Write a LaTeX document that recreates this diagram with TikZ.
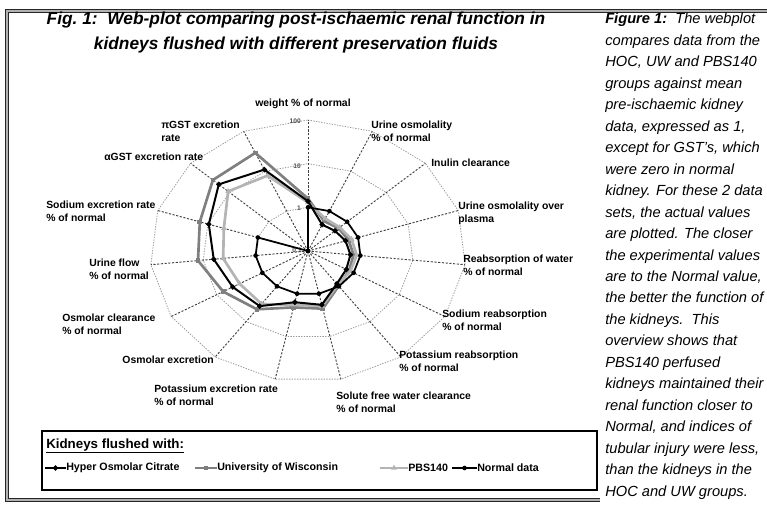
\documentclass[tikz,border=0pt]{standalone}
\usepackage{fontspec}
\setmainfont{Liberation Sans}
\usetikzlibrary{shapes.geometric}

\definecolor{uwgray}{HTML}{7F7F7F}
\definecolor{pbsgray}{HTML}{B4B4B4}

\tikzset{
  framebar/.style={black!85, line width=1.1pt, double=black!30, double distance=0.9pt},
  titletext/.style={font=\fontsize{13}{19}\selectfont\bfseries\itshape, align=center, inner sep=0pt},
  captext/.style={font=\fontsize{11}{16.1}\selectfont\itshape, align=left, inner sep=0pt},
  spoke/.style={black!75, line width=0.7pt, dash pattern=on 1.6pt off 1.2pt},
  gridring/.style={black!40, line width=0.6pt, dash pattern=on 1pt off 1pt},
  axlabel/.style={font=\fontsize{7.8}{9.8}\selectfont\bfseries, inner sep=0pt, align=left},
  ticklabel/.style={font=\fontsize{5}{6}\selectfont\bfseries, text=black!70, inner sep=0pt, anchor=east},
  hocline/.style={black, line width=1.5pt, line join=round},
  uwline/.style={uwgray, line width=2pt, line join=round},
  pbsline/.style={pbsgray, line width=2pt, line join=round},
  normline/.style={black, line width=1.3pt, line join=round},
  hocmark/.style={diamond, fill=black, inner sep=0pt, minimum size=4.5pt},
  uwmark/.style={rectangle, fill=uwgray, inner sep=0pt, minimum size=3.5pt},
  pbsmark/.style={regular polygon, regular polygon sides=3, fill=pbsgray, inner sep=0pt, minimum size=5pt},
  normmark/.style={circle, fill=black, inner sep=0pt, minimum size=3.5pt},
  legendbox/.style={black, line width=0.8pt},
  legtitle/.style={font=\fontsize{10}{12}\selectfont\bfseries, inner sep=0pt, anchor=west},
  legtext/.style={font=\fontsize{8}{10}\selectfont\bfseries, inner sep=0pt, anchor=west},
}

\begin{document}
\begin{tikzpicture}[x=0.75pt, y=-0.75pt]
\useasboundingbox (0,0) rectangle (767,505);

% frame and headings
\draw[framebar] (600,500) -- (7,500) -- (7,11) -- (767,11);
\node[titletext] (title) at (296,32.5) {Fig.~1:\ \ Web-plot comparing post-ischaemic renal function in\\kidneys flushed with different preservation fluids};
\node[captext, anchor=north west] (caption) at (605,13) {\textbf{Figure 1:}\ \ The webplot\\compares data from the\\HOC, UW and PBS140\\groups against mean\\pre-ischaemic kidney\\data, expressed as 1,\\except for GST's, which\\were zero in normal\\kidney. For these 2 data\\sets, the actual values\\are plotted. The closer\\the experimental values\\are to the Normal value,\\the better the function of\\the kidneys.\ \ This\\overview shows that\\PBS140 perfused\\kidneys maintained their\\renal function closer to\\Normal, and indices of\\tubular injury were less,\\than the kidneys in the\\HOC and UW groups.};

% web grid
\coordinate (ctr) at (308,251);
\foreach \i in {0,...,14}
  \coordinate (sp\i) at ({308+158*cos(90-24*\i)}, {251-131*sin(90-24*\i)});
\foreach \r in {1,2,3}
  \draw[gridring] plot[samples at={0,...,15}] ({308+158*\r/3*cos(90-24*\x)}, {251-131*\r/3*sin(90-24*\x)});
\foreach \i in {0,...,14}
  \draw[spoke] (ctr) -- (sp\i);
\node[ticklabel] (t100) at (301,121) {100};
\node[ticklabel] (t10) at (301,166) {10};
\node[ticklabel] (t1) at (301,208) {1};
\node[ticklabel] (t01) at (302,250) {0.1};

% spoke labels
\node[axlabel] (weight) at (303,104) {weight \% of normal};
\node[axlabel, anchor=west] (uosm) at (371,131) {Urine osmolality\\\% of normal};
\node[axlabel, anchor=west] (inulin) at (431,163) {Inulin clearance};
\node[axlabel, anchor=west] (uosmp) at (458,213) {Urine osmolality over\\plasma};
\node[axlabel, anchor=west] (reabw) at (463,265) {Reabsorption of water\\\% of normal};
\node[axlabel, anchor=west] (nareab) at (442,320) {Sodium reabsorption\\\% of normal};
\node[axlabel, anchor=west] (kreab) at (399,361) {Potassium reabsorption\\\% of normal};
\node[axlabel, anchor=north west] (sfwc) at (336,392) {Solute free water clearance\\\% of normal};
\node[axlabel, anchor=north west] (kexc) at (154,385) {Potassium excretion rate\\\% of normal};
\node[axlabel, anchor=east] (osmexc) at (214,360) {Osmolar excretion};
\node[axlabel, anchor=west] (osmcl) at (62,324) {Osmolar clearance\\\% of normal};
\node[axlabel, anchor=west] (uflow) at (89,269) {Urine flow\\\% of normal};
\node[axlabel, anchor=west] (naexc) at (46,211) {Sodium excretion rate\\\% of normal};
\node[axlabel, anchor=west] (agst) at (104,157) {αGST excretion rate};
\node[axlabel, anchor=west] (pgst) at (161,131) {πGST excretion\\rate};

% data series
\foreach \v [count=\i from 0] in {0.40,0.25,0.26,0.27,0.29,0.30,0.33,0.45,0.44,0.55,0.62,0.70,0.72,0.81,0.82}
  \coordinate (uw\i) at ({308+158*\v*cos(90-24*\i)}, {251-131*\v*sin(90-24*\i)});
\foreach \v [count=\i from 0] in {0.37,0.27,0.27,0.29,0.31,0.31,0.32,0.43,0.42,0.50,0.50,0.54,0.56,0.68,0.63}
  \coordinate (pbs\i) at ({308+158*\v*cos(90-24*\i)}, {251-131*\v*sin(90-24*\i)});
\foreach \v [count=\i from 0] in {0.38,0.22,0.23,0.25,0.27,0.28,0.31,0.42,0.40,0.52,0.55,0.60,0.66,0.76,0.68}
  \coordinate (hoc\i) at ({308+158*\v*cos(90-24*\i)}, {251-131*\v*sin(90-24*\i)});
\foreach \v [count=\i from 0] in {0.3333,0.3333,0.3333,0.3333,0.3333,0.3333,0.3333,0.3333,0.3333,0.3333,0.3333,0.3333,0.3333,0,0}
  \coordinate (norm\i) at ({308+158*\v*cos(90-24*\i)}, {251-131*\v*sin(90-24*\i)});

\draw[uwline] (uw0) \foreach \i in {1,...,14} {-- (uw\i)} -- cycle;
\foreach \i in {0,...,14} \node[uwmark] (uwm\i) at (uw\i) {};
\draw[pbsline] (pbs0) \foreach \i in {1,...,14} {-- (pbs\i)} -- cycle;
\foreach \i in {0,...,14} \node[pbsmark] (pbsm\i) at (pbs\i) {};
\draw[hocline] (hoc0) \foreach \i in {1,...,14} {-- (hoc\i)} -- cycle;
\foreach \i in {0,...,14} \node[hocmark] (hocm\i) at (hoc\i) {};
\draw[normline] (norm0) \foreach \i in {1,...,14} {-- (norm\i)} -- cycle;
\foreach \i in {0,...,14} \node[normmark] (normm\i) at (norm\i) {};

% legend
\draw[legendbox] (42,431) rectangle (597,490);
\node[legtitle] (legtitle) at (46,446) {\underline{Kidneys flushed with:}};
\coordinate (l1a) at (45,468); \coordinate (l1b) at (66,468);
\draw[hocline, line width=1.2pt] (l1a) -- (l1b);
\node[hocmark] (l1m) at (55.5,468) {};
\node[legtext] (l1t) at (l1b) {Hyper Osmolar Citrate};
\coordinate (l2a) at (195,468); \coordinate (l2b) at (217,468);
\draw[uwline, line width=1.6pt] (l2a) -- (l2b);
\node[uwmark] (l2m) at (206,468) {};
\node[legtext] (l2t) at (l2b) {University of Wisconsin};
\coordinate (l3a) at (380,468); \coordinate (l3b) at (408,468);
\draw[pbsline, line width=1.6pt] (l3a) -- (l3b);
\node[pbsmark] (l3m) at (394,468) {};
\node[legtext] (l3t) at (l3b) {PBS140};
\coordinate (l4a) at (452,468); \coordinate (l4b) at (477,468);
\draw[normline, line width=1.2pt] (l4a) -- (l4b);
\node[normmark] (l4m) at (464.5,468) {};
\node[legtext] (l4t) at (l4b) {Normal data};
\end{tikzpicture}
\end{document}
